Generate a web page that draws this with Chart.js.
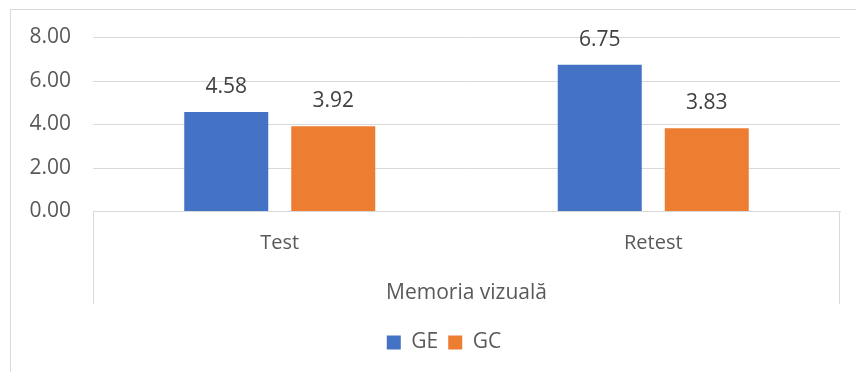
<!DOCTYPE html>
<html>
<head>
<meta charset="utf-8">
<script src="https://cdn.jsdelivr.net/npm/chart.js@4/dist/chart.umd.min.js"></script>
<style>
    html, body { margin: 0; padding: 0; background: #fff; }
    .wrap { position: relative; width: 856px; height: 372px; overflow: hidden; }
    .frame { position: absolute; left: 10px; top: 9px; width: 900px; height: 400px; border-left: 1px solid #d9d9d9; border-top: 1px solid #d9d9d9; pointer-events: none; }
    canvas { position: absolute; left: 0; top: 0; }
</style>
</head>
<body>
<div class="wrap">
    <canvas id="chart" width="856" height="372"></canvas>
    <div class="frame"></div>
</div>
<script>
const categories = ['Test', 'Retest']
const groupLabel = 'Memoria vizuală'
const seriesNames = ['GE', 'GC']
const geValues = [4.58, 6.75]
const gcValues = [3.92, 3.83]
const yTicks = [0, 2, 4, 6, 8]

const FONT = '"Open Sans", sans-serif'
const GRID = '#d9d9d9'
const TEXT = '#595959'

// value labels above each bar
const barLabels = {
    id: 'barLabels',
    afterDatasetsDraw(chart) {
        const ctx = chart.ctx
        ctx.save()
        ctx.font = '21px ' + FONT
        ctx.fillStyle = '#404040'
        ctx.textAlign = 'center'
        ctx.textBaseline = 'middle'
        chart.data.datasets.forEach((ds, i) => {
            chart.getDatasetMeta(i).data.forEach((bar, j) => {
                ctx.fillText(ds.data[j].toFixed(2), bar.x, bar.y - 25)
            })
        })
        ctx.restore()
    }
}

// outer dividers of the grouped category axis, legend nudged right
const groupDividers = {
    id: 'groupDividers',
    beforeDraw(chart) {
        chart.legend.left += 24
        chart.legend.right += 24
    },
    afterDraw(chart) {
        const { ctx, chartArea, scales } = chart
        const bottom = scales.x.bottom - 18
        ctx.save()
        ctx.strokeStyle = GRID
        ctx.lineWidth = 1
        ctx.beginPath()
        ctx.moveTo(Math.round(chartArea.left) + 0.5, chartArea.bottom)
        ctx.lineTo(Math.round(chartArea.left) + 0.5, bottom)
        ctx.moveTo(Math.round(chartArea.right) - 0.5, chartArea.bottom)
        ctx.lineTo(Math.round(chartArea.right) - 0.5, bottom)
        ctx.stroke()
        ctx.restore()
    }
}

new Chart(document.getElementById('chart'), {
    type: 'bar',
    data: {
        labels: categories,
        datasets: [
            { label: seriesNames[0], data: geValues, backgroundColor: '#4472C4' },
            { label: seriesNames[1], data: gcValues, backgroundColor: '#ED7D31' }
        ]
    },
    options: {
        responsive: false,
        animation: false,
        devicePixelRatio: 1,
        categoryPercentage: 0.573,
        barPercentage: 0.785,
        layout: { padding: { top: 37.5, right: 16, bottom: 9, left: 0 } },
        plugins: {
            legend: {
                position: 'bottom',
                labels: {
                    boxWidth: 14,
                    boxHeight: 14,
                    padding: 10,
                    color: TEXT,
                    font: { family: FONT, size: 21 }
                }
            },
            tooltip: { enabled: false }
        },
        scales: {
            x: {
                grid: { display: false, drawTicks: false },
                border: { display: true, color: GRID },
                ticks: { color: TEXT, padding: 20, font: { family: FONT, size: 20 } },
                title: {
                    display: true,
                    text: groupLabel,
                    color: TEXT,
                    font: { family: FONT, size: 21 },
                    padding: { top: 0, bottom: 16 }
                },
                afterFit(scale) { scale.height = 110.5 }
            },
            y: {
                min: 0,
                max: 8,
                afterBuildTicks(scale) { scale.ticks = yTicks.map(v => ({ value: v })) },
                grid: { color: GRID, drawTicks: false },
                border: { display: false },
                ticks: {
                    color: TEXT,
                    padding: 22,
                    font: { family: FONT, size: 21 },
                    callback: v => v.toFixed(2)
                },
                afterFit(scale) { scale.width = 93 }
            }
        }
    },
    plugins: [barLabels, groupDividers]
})
</script>
</body>
</html>
